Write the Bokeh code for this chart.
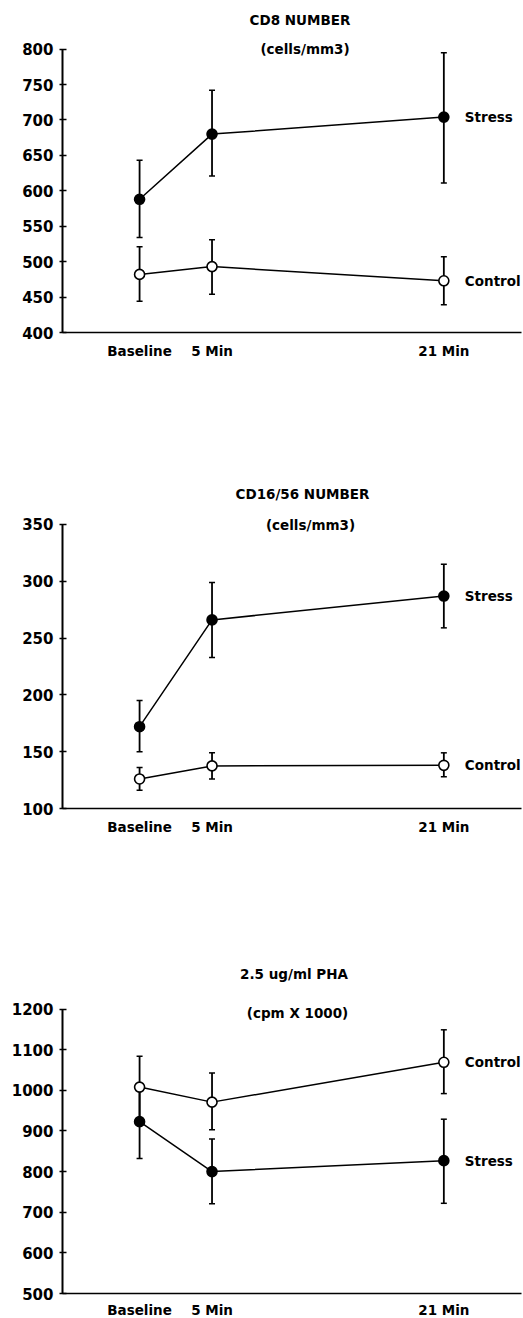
from bokeh.plotting import figure
from bokeh.models import ColumnDataSource, Whisker, TeeHead, FixedTicker, Range1d, Label
from bokeh.layouts import column
from bokeh.embed import file_html
from bokeh.resources import INLINE
from bokeh.core.properties import value

# ---------------- data ----------------
times = [0, 5, 21]
time_labels = ["Baseline", "5 Min", "21 Min"]

cd8_stress = [588, 680, 704]
cd8_stress_lo = [534, 621, 611]
cd8_stress_hi = [643, 742, 795]
cd8_control = [482, 493, 473]
cd8_control_lo = [444, 454, 439]
cd8_control_hi = [521, 531, 507]
cd8_ticks = [400, 450, 500, 550, 600, 650, 700, 750, 800]

nk_stress = [172, 266, 287]
nk_stress_lo = [150, 233, 259]
nk_stress_hi = [195, 299, 315]
nk_control = [126, 137.5, 138]
nk_control_lo = [116, 126, 128]
nk_control_hi = [136, 149, 149]
nk_ticks = [100, 150, 200, 250, 300, 350]

pha_control = [1008, 971, 1069]
pha_control_lo = [932, 903, 992]
pha_control_hi = [1084, 1043, 1149]
pha_stress = [923, 800, 827]
pha_stress_lo = [832, 721, 722]
pha_stress_hi = [1014, 880, 929]
pha_ticks = [500, 600, 700, 800, 900, 1000, 1100, 1200]

titles = [
    ("CD8 NUMBER", "(cells/mm3)"),
    ("CD16/56 NUMBER", "(cells/mm3)"),
    ("2.5 ug/ml PHA", "(cpm X 1000)"),
]

FONT = "DejaVu Sans"
FS = "13.5px"
TICK_FS = "15px"


def make_panel(ticks, y_end, series, title, ml, mr, fh, mb, x_standoff, title_pos):
    p = figure(frame_width=459, frame_height=fh,
               min_border_left=ml, min_border_right=mr,
               min_border_top=0, min_border_bottom=mb,
               x_range=Range1d(-5.32, 26.36),
               y_range=Range1d(ticks[0], y_end),
               output_backend="svg", toolbar_location=None, tools="")
    p.title.visible = False
    p.outline_line_color = None
    p.xgrid.visible = False
    p.ygrid.visible = False
    p.background_fill_color = "white"
    p.border_fill_color = "white"

    ya = p.yaxis[0]
    ya.ticker = FixedTicker(ticks=ticks)
    ya.bounds = (ticks[0], ticks[-1])
    ya.major_tick_in = 4
    ya.major_tick_out = 3
    ya.minor_tick_in = 0
    ya.minor_tick_out = 0
    ya.axis_line_width = 2
    ya.axis_line_color = "black"
    ya.major_tick_line_width = 1.5
    ya.major_tick_line_color = "black"
    ya.major_label_standoff = 6
    ya.major_label_text_font = FONT
    ya.major_label_text_font_style = "bold"
    ya.major_label_text_font_size = TICK_FS
    ya.major_label_text_color = "black"

    xa = p.xaxis[0]
    xa.ticker = FixedTicker(ticks=times)
    xa.major_label_overrides = {t: lab for t, lab in zip(times, time_labels)}
    xa.major_tick_in = 0
    xa.major_tick_out = 0
    xa.minor_tick_in = 0
    xa.minor_tick_out = 0
    xa.axis_line_width = 1.5
    xa.axis_line_color = "black"
    xa.major_label_standoff = x_standoff
    xa.major_label_text_font = FONT
    xa.major_label_text_font_style = "bold"
    xa.major_label_text_font_size = FS
    xa.major_label_text_color = "black"

    for name, vals, lo, hi, filled in series:
        src = ColumnDataSource(dict(x=times, y=vals, lo=lo, hi=hi))
        w = Whisker(base="x", upper="hi", lower="lo", source=src,
                    line_color="black", line_width=1.8,
                    upper_head=TeeHead(size=6, line_width=1.5, line_color="black"),
                    lower_head=TeeHead(size=6, line_width=1.5, line_color="black"))
        p.add_layout(w)
        p.line("x", "y", source=src, line_color="black", line_width=1.5)
        p.scatter("x", "y", source=src, size=10, marker="circle",
                  fill_color="black" if filled else "white",
                  line_color="black", line_width=1.6)
        p.text(x=[times[-1]], y=[vals[-1]], text=[name], x_offset=21,
               text_align="left", text_baseline="middle",
               text_font=value(FONT), text_font_style="bold",
               text_font_size=FS, text_color="black")

    (x1, y1), (x2, y2) = title_pos
    p.add_layout(Label(x=x1, y=y1, x_units="screen", y_units="screen",
                       text=title[0], text_align="center", text_baseline="middle",
                       text_font=FONT, text_font_style="bold", text_font_size=FS,
                       text_color="black"))
    p.add_layout(Label(x=x2, y=y2, x_units="screen", y_units="screen",
                       text=title[1], text_align="center", text_baseline="middle",
                       text_font=FONT, text_font_style="bold", text_font_size=FS,
                       text_color="black"))
    return p


p1 = make_panel(cd8_ticks, 868.6,
                [("Stress", cd8_stress, cd8_stress_lo, cd8_stress_hi, True),
                 ("Control", cd8_control, cd8_control_lo, cd8_control_hi, False)],
                titles[0], 59, 4, 332, 138, 10, ((237.5, 312.5), (242.5, 284)))
p2 = make_panel(nk_ticks, 397.5,
                [("Stress", nk_stress, nk_stress_lo, nk_stress_hi, True),
                 ("Control", nk_control, nk_control_lo, nk_control_hi, False)],
                titles[1], 62, 1, 338, 142, 10, ((240, 315), (248, 284)))
p3 = make_panel(pha_ticks, 1344.2,
                [("Control", pha_control, pha_control_lo, pha_control_hi, False),
                 ("Stress", pha_stress, pha_stress_lo, pha_stress_hi, True)],
                titles[2], 61, 2, 343, 25, 8, ((231.5, 319.7), (235, 281)))

layout = column(p1, p2, p3)
open("out.html", "w").write(file_html(layout, INLINE))
